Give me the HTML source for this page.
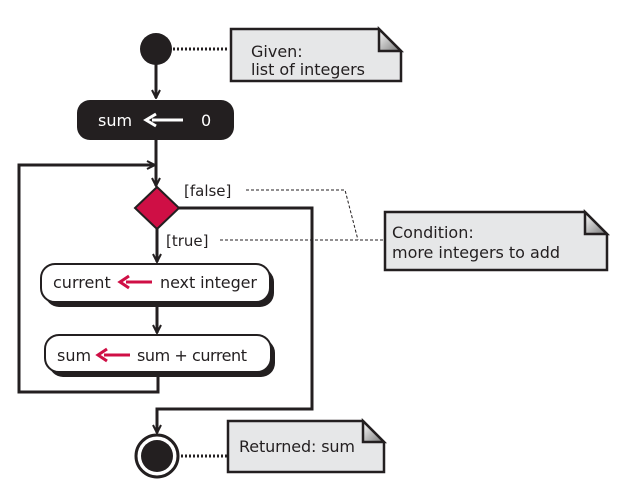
<!DOCTYPE html>
<html><head><meta charset="utf-8"><style>
body{margin:0;background:#fff;}
svg{display:block;font-family:"DejaVu Sans","Liberation Sans",sans-serif;}
</style></head><body>
<svg width="630" height="492" viewBox="0 0 630 492" xmlns="http://www.w3.org/2000/svg">
<defs>
<marker id="ah" viewBox="0 0 10 10" refX="9" refY="5" markerWidth="10" markerHeight="10" markerUnits="userSpaceOnUse" orient="auto">
<path d="M1,1 L9,5 L1,9" fill="none" stroke="#231f20" stroke-width="2"/>
</marker>
<linearGradient id="fg" x1="0" y1="0" x2="1" y2="1"><stop offset="0" stop-color="#fff"/><stop offset="1" stop-color="#777"/></linearGradient>
</defs>
<g stroke="#231f20" stroke-width="3" fill="none">
<line x1="156" y1="60" x2="156" y2="98" marker-end="url(#ah)"/>
<line x1="156" y1="140" x2="156" y2="186" marker-end="url(#ah)"/>
<polyline points="158,374 158,392 19,392 19,165 155,165" marker-end="url(#ah)"/>
<line x1="157" y1="229" x2="157" y2="262" marker-end="url(#ah)"/>
<line x1="157" y1="306" x2="157" y2="333" marker-end="url(#ah)"/>
<polyline points="179,208 312,208 312,409 157,409 157,433" marker-end="url(#ah)"/>
</g>
<g stroke="#231f20" fill="none">
<line x1="173" y1="49" x2="229" y2="49" stroke-width="3" stroke-dasharray="2,2"/>
<line x1="181" y1="456" x2="228" y2="456" stroke-width="3" stroke-dasharray="2,2"/>
<polyline points="246,190 345,190 358,240" stroke-width="1" stroke-dasharray="3,2"/>
<line x1="220" y1="240" x2="384" y2="240" stroke-width="1" stroke-dasharray="3,2"/>
</g>
<circle cx="156" cy="49" r="16" fill="#231f20"/>
<rect x="77" y="100" width="157" height="40" rx="13" fill="#231f20"/>
<text x="98" y="126" fill="#fff" font-size="16">sum</text>
<line x1="152" y1="120" x2="183" y2="120" stroke="#fff" stroke-width="3"/>
<path d="M156,114 L146,120 L156,126" fill="none" stroke="#fff" stroke-width="3"/>
<text x="201" y="126" fill="#fff" font-size="16">0</text>
<polygon points="157,187 179,208 157,229 135,208" fill="#cf0f45" stroke="#231f20" stroke-width="2"/>
<text x="184" y="196" font-size="15" fill="#231f20">[false]</text>
<text x="166" y="246" font-size="15" fill="#231f20">[true]</text>
<rect x="45" y="268" width="229" height="39" rx="14" fill="#231f20"/>
<rect x="41" y="264" width="229" height="38" rx="14" fill="#fff" stroke="#231f20" stroke-width="2"/>
<text x="53" y="288" font-size="16" fill="#231f20">current</text>
<line x1="126" y1="282" x2="152" y2="282" stroke="#cf0f45" stroke-width="3"/>
<path d="M129,276 L120,282 L129,288" fill="none" stroke="#cf0f45" stroke-width="3"/>
<text x="160" y="288" font-size="16" fill="#231f20" textLength="97">next integer</text>
<rect x="49" y="339" width="226" height="38" rx="14" fill="#231f20"/>
<rect x="45" y="335" width="226" height="37" rx="14" fill="#fff" stroke="#231f20" stroke-width="2"/>
<text x="57" y="361" font-size="16" fill="#231f20">sum</text>
<line x1="104" y1="355" x2="130" y2="355" stroke="#cf0f45" stroke-width="3"/>
<path d="M107,349 L98,355 L107,361" fill="none" stroke="#cf0f45" stroke-width="3"/>
<text x="137" y="361" font-size="16" fill="#231f20" textLength="110">sum + current</text>
<circle cx="157" cy="456" r="21" fill="#fff" stroke="#231f20" stroke-width="3"/>
<circle cx="157" cy="456" r="16" fill="#231f20"/>
<g stroke="#231f20" stroke-width="2.5">
<path d="M231,29 L379,29 L401,51 L401,81 L231,81 Z" fill="#e6e7e8"/>
<path d="M379,29 L379,51 L401,51 Z" fill="url(#fg)"/>
<path d="M385,212 L585,212 L607,234 L607,270 L385,270 Z" fill="#e6e7e8"/>
<path d="M585,212 L585,234 L607,234 Z" fill="url(#fg)"/>
<path d="M228,421 L363,421 L384,442 L384,472 L228,472 Z" fill="#e6e7e8"/>
<path d="M363,421 L363,442 L384,442 Z" fill="url(#fg)"/>
</g>
<g font-size="16" fill="#231f20">
<text x="251" y="57">Given:</text>
<text x="251" y="75" textLength="114">list of integers</text>
<text x="392" y="238">Condition:</text>
<text x="392" y="258" textLength="168">more integers to add</text>
<text x="239" y="452" textLength="116">Returned: sum</text>
</g>
</svg>
</body></html>
